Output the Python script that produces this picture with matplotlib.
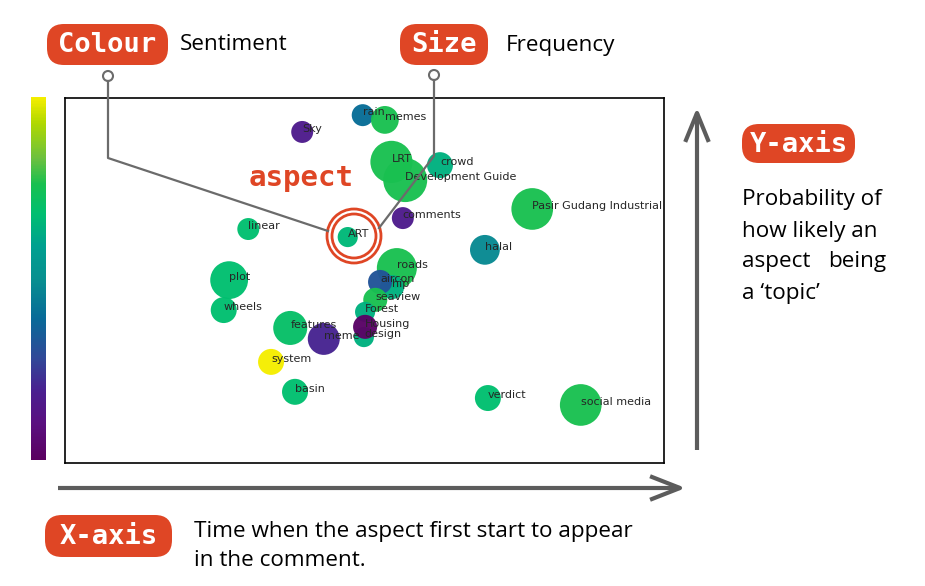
import numpy as np
import matplotlib
matplotlib.use("Agg")
import matplotlib.pyplot as plt
from matplotlib.patches import FancyBboxPatch, Circle
from matplotlib.cm import ScalarMappable
from matplotlib.colors import Normalize, LinearSegmentedColormap

# aspects: time of first appearance (x), topic probability (y),
# sentiment (colour) and frequency (marker area)
aspects = ["rain", "memes", "Sky", "LRT", "Development Guide", "crowd", "comments",
           "Pasir Gudang Industrial", "linear", "ART", "halal", "plot", "roads", "hip",
           "aircon", "seaview", "Forest", "design", "Housing", "wheels", "features",
           "meme", "system", "basin", "verdict", "social media"]
first_seen = [0.497, 0.534, 0.396, 0.545, 0.568, 0.626, 0.564,
              0.780, 0.306, 0.472, 0.701, 0.274, 0.554, 0.546,
              0.526, 0.518, 0.501, 0.499, 0.501, 0.265, 0.376,
              0.432, 0.344, 0.384, 0.706, 0.861]
topic_prob = [0.953, 0.940, 0.907, 0.825, 0.775, 0.816, 0.671,
              0.696, 0.641, 0.619, 0.584, 0.501, 0.534, 0.482,
              0.496, 0.447, 0.414, 0.345, 0.373, 0.419, 0.370,
              0.340, 0.277, 0.195, 0.178, 0.159]
sentiment = [0.40, 0.76, 0.17, 0.76, 0.76, 0.64, 0.17,
             0.76, 0.68, 0.66, 0.48, 0.68, 0.76, 0.64,
             0.32, 0.76, 0.64, 0.64, 0.02, 0.68, 0.70,
             0.20, 1.00, 0.68, 0.68, 0.76]
frequency = [250, 400, 250, 920, 1000, 350, 250,
             900, 250, 210, 460, 740, 830, 300,
             300, 300, 210, 210, 300, 350, 600,
             530, 350, 350, 350, 900]

# colour scale as it appears on the bar at the left
cmap_stops = [0.0, 0.10, 0.19, 0.28, 0.39, 0.50, 0.59, 0.68, 0.76, 0.83, 0.93, 1.0]
cmap_colours = ["#5a0060", "#5a1080", "#4a2090", "#304898", "#086a98", "#089090",
                "#00a090", "#00bf70", "#18c050", "#6ac040", "#b0d800", "#f5ee00"]
senti_cmap = LinearSegmentedColormap.from_list("senti", list(zip(cmap_stops, cmap_colours)))

ORANGE = "#DF4625"
GREY = "#5c5c5c"

fig = plt.figure(figsize=(9.25, 5.86), dpi=100)
W, H = 925, 586


def px_rect(x0, y0, x1, y1):
    return [x0 / W, 1 - y1 / H, (x1 - x0) / W, (y1 - y0) / H]


# main bubble chart
ax = fig.add_axes(px_rect(65, 98, 664, 463))
ax.scatter(first_seen, topic_prob, s=frequency, c=sentiment, cmap=senti_cmap,
           vmin=0, vmax=1, alpha=0.97, linewidths=0)
for name, x, y in zip(aspects, first_seen, topic_prob):
    ax.annotate(name, (x, y), xytext=(0, 2), textcoords="offset points",
                fontsize=8, color="#262626", ha="left", va="center")
ax.set_xlim(0, 1)
ax.set_ylim(0, 1)
ax.set_xticks([])
ax.set_yticks([])
for sp in ax.spines.values():
    sp.set_linewidth(1.2)

# colour bar
cax = fig.add_axes(px_rect(31, 97, 46, 460))
cb = fig.colorbar(ScalarMappable(norm=Normalize(0, 1), cmap=senti_cmap), cax=cax)
cb.set_ticks([])
cb.outline.set_visible(False)

# overlay for the annotations, in pixel units
ov = fig.add_axes([0, 0, 1, 1], zorder=5)
ov.set_xlim(0, W)
ov.set_ylim(H, 0)
ov.axis("off")
ov.patch.set_alpha(0)


def pill(x0, y0, x1, y1, label):
    ov.add_patch(FancyBboxPatch((x0, y0), x1 - x0, y1 - y0,
                                boxstyle="round,pad=0,rounding_size=17",
                                fc=ORANGE, ec="none"))
    ov.text((x0 + x1) / 2, (y0 + y1) / 2 + 1, label, color="white",
            fontsize=19.5, fontweight="bold", family="DejaVu Sans Mono",
            ha="center", va="center")


body = dict(family="Open Sans", fontsize=16.2, color="black", va="center")

pill(47, 24, 168, 65, "Colour")
ov.text(180, 45, "Sentiment", **body)
pill(400, 24, 488, 65, "Size")
ov.text(506, 45, "Frequency", **body)

# connectors from the legend to the highlighted aspect
ov.plot([108, 108, 328], [81, 158, 231], color="#6b6b6b", lw=1.6)
ov.plot([434, 434, 379], [80, 156, 228], color="#6b6b6b", lw=1.6)
for cx, cy in [(108, 76), (434, 75)]:
    ov.add_patch(Circle((cx, cy), 5, fc="white", ec="#6b6b6b", lw=1.5))
ov.add_patch(Circle((354, 236), 27, fc="none", ec=ORANGE, lw=2))
ov.add_patch(Circle((354, 236), 22, fc="none", ec=ORANGE, lw=2))
ov.text(301, 178, "aspect", color=ORANGE, fontsize=21, fontweight="bold",
        family="DejaVu Sans Mono", ha="center", va="center")

# axis arrows
ov.plot([697, 697], [450, 113], color=GREY, lw=3, solid_capstyle="butt")
ov.plot([686, 697, 708], [140, 113, 140], color=GREY, lw=3)
ov.plot([58, 680], [488, 488], color=GREY, lw=3, solid_capstyle="butt")
ov.plot([652, 680, 652], [477, 488, 499], color=GREY, lw=3)

pill(742, 124, 855, 163, "Y-axis")
ov.text(742, 199, "Probability of", **body)
ov.text(742, 231, "how likely an", **body)
ov.text(742, 262, "aspect", **body)
ov.text(886, 262, "being", ha="right", **body)
ov.text(742, 293, "a \u2018topic\u2019", **body)

pill(45, 515, 172, 557, "X-axis")
ov.text(194, 531, "Time when the aspect first start to appear", **body)
ov.text(194, 561, "in the comment.", **body)

fig.savefig("out.png", dpi=100)
